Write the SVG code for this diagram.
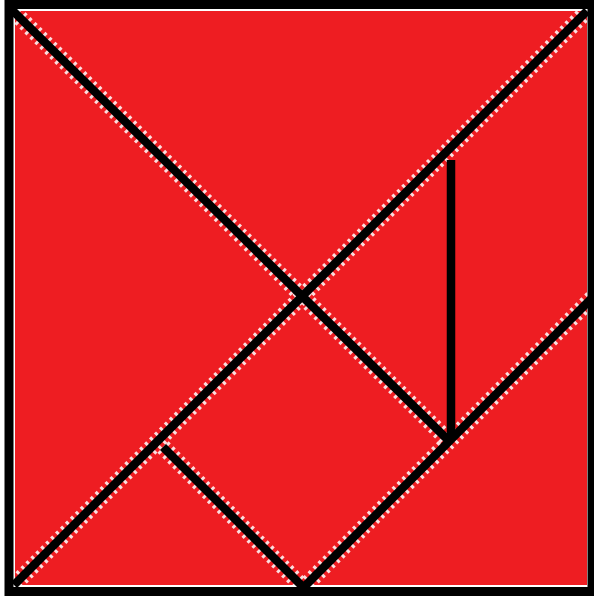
<svg xmlns="http://www.w3.org/2000/svg" width="594" height="596" viewBox="0 0 594 596">
<style>
.ln{stroke:#000;stroke-width:8.5;stroke-linecap:butt;fill:none}
.fr{stroke:#fff;stroke-width:16;stroke-dasharray:3 4;fill:none;opacity:0.85}
</style>
<rect width="594" height="596" fill="#fff"/>
<rect id="board" x="15" y="11" width="572" height="574" fill="#EE1D22"/>
<g id="connectors">
<g class="fr">
<line x1="10" y1="8" x2="448" y2="440"/>
<line x1="587" y1="11" x2="14" y2="585"/>
<line x1="592" y1="298" x2="304" y2="587"/>
<line x1="163" y1="447" x2="304" y2="588"/>
</g>
<line class="ln" x1="10" y1="8" x2="448" y2="440"/>
<line class="ln" x1="587" y1="11" x2="14" y2="585"/>
<line class="ln" x1="592" y1="298" x2="304" y2="587"/>
<line class="ln" x1="163" y1="447" x2="304" y2="588"/>
<line class="ln" x1="451" y1="160" x2="451" y2="440"/>
</g>
<rect id="frame" x="9" y="4.5" width="583" height="587" fill="none" stroke="#000" stroke-width="9"/>
</svg>
